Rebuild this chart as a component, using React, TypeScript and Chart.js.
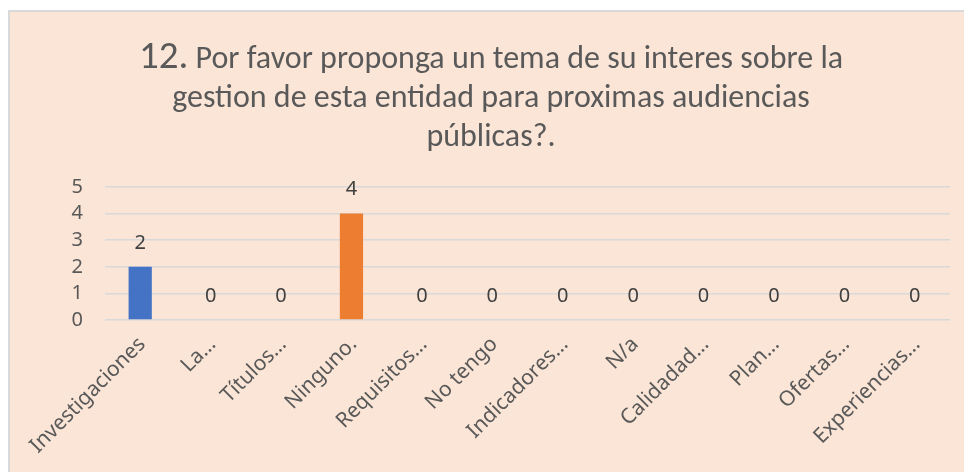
import React, { useEffect, useRef } from "react";
import { Chart, registerables } from "chart.js";
Chart.register(...registerables);

const categories = [
  "Investigaciones",
  "La…",
  "Títulos…",
  "Ninguno.",
  "Requisitos…",
  "No tengo",
  "Indicadores…",
  "N/a",
  "Calidadad…",
  "Plan…",
  "Ofertas…",
  "Experiencias…",
];
const values = [2, 0, 0, 4, 0, 0, 0, 0, 0, 0, 0, 0];
const barColors = [
  "#4472C4", "#4472C4", "#4472C4", "#ED7D31", "#4472C4", "#4472C4",
  "#4472C4", "#4472C4", "#4472C4", "#4472C4", "#4472C4", "#4472C4",
];
const titleNumber = "12.";
const titleLines = [
  " Por favor proponga un tema de su interes sobre la",
  "gestion de esta entidad para proximas audiencias",
  "públicas?.",
];
const yMin = 0;
const yMax = 5;
const yStep = 1;

const TITLE_FONT = "Carlito, sans-serif";
const LABEL_FONT = "'Noto Sans', sans-serif";
const TITLE_SIZE = 32;
const TITLE_NUM_SIZE = 39;
const TITLE_LH = 39;
const TITLE_PAD_TOP = 26;
const TITLE_PAD_BOTTOM = 32;

const richTitle = {
  id: "richTitle",
  afterDraw(chart: any) {
    const tb = chart.titleBlock;
    if (!tb) return;
    const ctx = chart.ctx;
    ctx.save();
    ctx.fillStyle = "#595959";
    ctx.textBaseline = "alphabetic";
    ctx.textAlign = "left";
    const cx = chart.width / 2;
    const baseOffset = TITLE_SIZE * 0.33;
    titleLines.forEach((line, i) => {
      const y = tb.top + TITLE_PAD_TOP + TITLE_LH / 2 + i * TITLE_LH + baseOffset;
      ctx.font = `${TITLE_SIZE}px ${TITLE_FONT}`;
      const wLine = ctx.measureText(line).width;
      let wNum = 0;
      if (i === 0) {
        ctx.font = `${TITLE_NUM_SIZE}px ${TITLE_FONT}`;
        wNum = ctx.measureText(titleNumber).width;
      }
      let x = cx - (wLine + wNum) / 2;
      if (i === 0) {
        ctx.font = `${TITLE_NUM_SIZE}px ${TITLE_FONT}`;
        ctx.fillText(titleNumber, x, y);
        x += wNum;
      }
      ctx.font = `${TITLE_SIZE}px ${TITLE_FONT}`;
      ctx.fillText(line, x, y);
    });
    ctx.restore();
  },
};

const valueLabels = {
  id: "valueLabels",
  afterDatasetsDraw(chart: any) {
    const ctx = chart.ctx;
    const meta = chart.getDatasetMeta(0);
    ctx.save();
    ctx.font = `20px ${LABEL_FONT}`;
    ctx.fillStyle = "#404040";
    ctx.textAlign = "center";
    ctx.textBaseline = "middle";
    meta.data.forEach((bar: any, i: number) => {
      ctx.fillText(String(values[i]), bar.x, bar.y - 24);
    });
    ctx.restore();
  },
};

export default function App() {
  const ref = useRef<HTMLCanvasElement>(null);
  useEffect(() => {
    if (!ref.current) return;
    const chart = new Chart(ref.current, {
      type: "bar",
      data: {
        labels: categories,
        datasets: [
          {
            data: values,
            backgroundColor: barColors,
            barPercentage: 0.33,
            categoryPercentage: 1,
          },
        ],
      },
      plugins: [valueLabels, richTitle],
      options: {
        animation: false,
        responsive: true,
        maintainAspectRatio: false,
        layout: { padding: { left: 0, right: 22, top: 0, bottom: 0 } },
        plugins: {
          legend: { display: false },
          tooltip: { enabled: false },
          title: {
            display: true,
            text: [titleNumber + titleLines[0], titleLines[1], titleLines[2]],
            color: "rgba(0,0,0,0)",
            font: {
              family: TITLE_FONT,
              size: TITLE_SIZE,
              weight: "normal",
              lineHeight: TITLE_LH / TITLE_SIZE,
            },
            padding: { top: TITLE_PAD_TOP, bottom: TITLE_PAD_BOTTOM },
          },
        },
        scales: {
          x: {
            grid: { display: false },
            border: { display: false },
            ticks: {
              color: "#595959",
              font: { family: LABEL_FONT, size: 21 },
              autoSkip: false,
              minRotation: 45,
              maxRotation: 45,
              padding: 4,
              labelOffset: 2,
            },
            afterFit(scale: any) {
              scale.height = 152;
            },
          },
          y: {
            min: yMin,
            max: yMax,
            ticks: {
              stepSize: yStep,
              autoSkip: false,
              color: "#595959",
              font: { family: LABEL_FONT, size: 20 },
              padding: 22,
            },
            grid: { color: "#D9D9D9", lineWidth: 1.5, drawTicks: false },
            border: { display: false },
            afterFit(scale: any) {
              scale.width = 95;
            },
          },
        },
      },
    });
    return () => chart.destroy();
  }, []);
  return (
    <div
      style={{
        marginTop: 2,
        width: 964,
        height: 462,
        boxSizing: "border-box",
        borderLeft: "2px solid #D9D9D9",
        borderTop: "2px solid #D9D9D9",
        background: "#FBE5D6",
      }}
    >
      <div style={{ position: "relative", width: 962, height: 460 }}>
        <canvas ref={ref} />
      </div>
    </div>
  );
}
